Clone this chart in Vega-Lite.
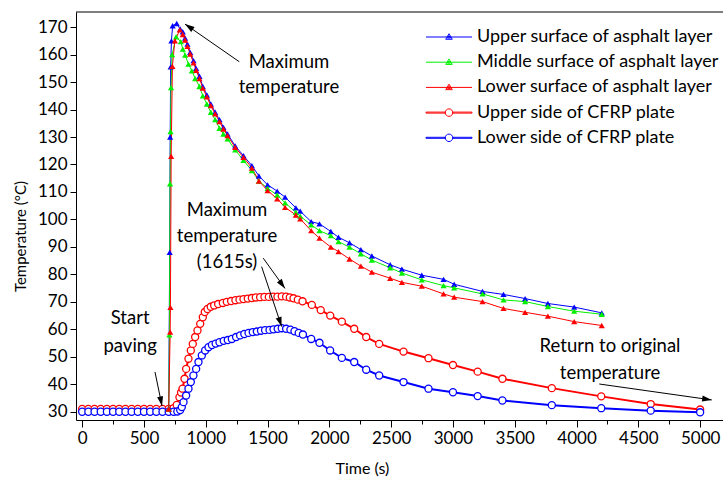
{
  "$schema": "https://vega.github.io/schema/vega-lite/v6.json",
  "width": 647,
  "height": 408,
  "autosize": {"type": "none"},
  "padding": {"left": 76, "top": 12, "right": 0, "bottom": 59},
  "background": "white",
  "config": {
    "view": {"stroke": null},
    "font": "Lato",
    "axis": {
      "domainColor": "black", "tickColor": "black", "labelColor": "black", "titleColor": "black",
      "labelFont": "Lato", "labelFontSize": 17, "titleFont": "Lato", "titleFontSize": 16,
      "titleFontWeight": "normal", "grid": false, "domainWidth": 1, "tickWidth": 1
    }
  },
  "datasets": {
    "temps": [
      {"s":"Upper surface of asphalt layer","t":700,"T":31},{"s":"Upper surface of asphalt layer","t":708,"T":88},{"s":"Upper surface of asphalt layer","t":712,"T":130},{"s":"Upper surface of asphalt layer","t":716,"T":155.5},{"s":"Upper surface of asphalt layer","t":722,"T":165},{"s":"Upper surface of asphalt layer","t":732,"T":170.5},{"s":"Upper surface of asphalt layer","t":765,"T":171.3},{"s":"Upper surface of asphalt layer","t":793,"T":169.3},{"s":"Upper surface of asphalt layer","t":814,"T":168.3},{"s":"Upper surface of asphalt layer","t":833,"T":166},{"s":"Upper surface of asphalt layer","t":852,"T":163.8},{"s":"Upper surface of asphalt layer","t":874,"T":160.8},{"s":"Upper surface of asphalt layer","t":901,"T":157.8},{"s":"Upper surface of asphalt layer","t":922,"T":155},{"s":"Upper surface of asphalt layer","t":949,"T":152.1},{"s":"Upper surface of asphalt layer","t":976,"T":148.4},{"s":"Upper surface of asphalt layer","t":1009,"T":145.3},{"s":"Upper surface of asphalt layer","t":1041,"T":142},{"s":"Upper surface of asphalt layer","t":1076,"T":139},{"s":"Upper surface of asphalt layer","t":1111,"T":136.3},{"s":"Upper surface of asphalt layer","t":1143,"T":133.5},{"s":"Upper surface of asphalt layer","t":1176,"T":131.1},{"s":"Upper surface of asphalt layer","t":1238,"T":126.8},{"s":"Upper surface of asphalt layer","t":1305,"T":123.2},{"s":"Upper surface of asphalt layer","t":1373,"T":119.6},{"s":"Upper surface of asphalt layer","t":1430,"T":115.8},{"s":"Upper surface of asphalt layer","t":1500,"T":112.6},{"s":"Upper surface of asphalt layer","t":1578,"T":110.3},{"s":"Upper surface of asphalt layer","t":1642,"T":108.1},{"s":"Upper surface of asphalt layer","t":1729,"T":104.2},{"s":"Upper surface of asphalt layer","t":1764,"T":103},{"s":"Upper surface of asphalt layer","t":1853,"T":99.2},{"s":"Upper surface of asphalt layer","t":1920,"T":98.4},{"s":"Upper surface of asphalt layer","t":2012,"T":95.6},{"s":"Upper surface of asphalt layer","t":2074,"T":93.5},{"s":"Upper surface of asphalt layer","t":2163,"T":91.5},{"s":"Upper surface of asphalt layer","t":2255,"T":89},{"s":"Upper surface of asphalt layer","t":2344,"T":86.7},{"s":"Upper surface of asphalt layer","t":2492,"T":83.5},{"s":"Upper surface of asphalt layer","t":2587,"T":81.9},{"s":"Upper surface of asphalt layer","t":2748,"T":79.7},{"s":"Upper surface of asphalt layer","t":2924,"T":78.2},{"s":"Upper surface of asphalt layer","t":3010,"T":76.4},{"s":"Upper surface of asphalt layer","t":3239,"T":73.8},{"s":"Upper surface of asphalt layer","t":3409,"T":72.7},{"s":"Upper surface of asphalt layer","t":3584,"T":71.2},{"s":"Upper surface of asphalt layer","t":3768,"T":69.4},{"s":"Upper surface of asphalt layer","t":3981,"T":68.1},{"s":"Upper surface of asphalt layer","t":4204,"T":66},
      {"s":"Middle surface of asphalt layer","t":700,"T":31},{"s":"Middle surface of asphalt layer","t":706,"T":58},{"s":"Middle surface of asphalt layer","t":711,"T":113},{"s":"Middle surface of asphalt layer","t":715,"T":132},{"s":"Middle surface of asphalt layer","t":719,"T":148},{"s":"Middle surface of asphalt layer","t":728,"T":160},{"s":"Middle surface of asphalt layer","t":760,"T":166.5},{"s":"Middle surface of asphalt layer","t":798,"T":164.7},{"s":"Middle surface of asphalt layer","t":814,"T":162},{"s":"Middle surface of asphalt layer","t":833,"T":159.8},{"s":"Middle surface of asphalt layer","t":860,"T":156.5},{"s":"Middle surface of asphalt layer","t":887,"T":154.1},{"s":"Middle surface of asphalt layer","t":914,"T":151.3},{"s":"Middle surface of asphalt layer","t":949,"T":148.4},{"s":"Middle surface of asphalt layer","t":976,"T":145},{"s":"Middle surface of asphalt layer","t":1009,"T":142},{"s":"Middle surface of asphalt layer","t":1041,"T":139},{"s":"Middle surface of asphalt layer","t":1076,"T":136.3},{"s":"Middle surface of asphalt layer","t":1111,"T":133.2},{"s":"Middle surface of asphalt layer","t":1143,"T":131.1},{"s":"Middle surface of asphalt layer","t":1176,"T":129.3},{"s":"Middle surface of asphalt layer","t":1238,"T":125.3},{"s":"Middle surface of asphalt layer","t":1305,"T":121.5},{"s":"Middle surface of asphalt layer","t":1373,"T":117.8},{"s":"Middle surface of asphalt layer","t":1430,"T":114},{"s":"Middle surface of asphalt layer","t":1500,"T":111.3},{"s":"Middle surface of asphalt layer","t":1578,"T":108.9},{"s":"Middle surface of asphalt layer","t":1642,"T":106},{"s":"Middle surface of asphalt layer","t":1729,"T":102.6},{"s":"Middle surface of asphalt layer","t":1764,"T":101.2},{"s":"Middle surface of asphalt layer","t":1853,"T":98},{"s":"Middle surface of asphalt layer","t":1920,"T":95.9},{"s":"Middle surface of asphalt layer","t":2012,"T":94.1},{"s":"Middle surface of asphalt layer","t":2074,"T":91.9},{"s":"Middle surface of asphalt layer","t":2163,"T":89.9},{"s":"Middle surface of asphalt layer","t":2255,"T":87.5},{"s":"Middle surface of asphalt layer","t":2344,"T":85.2},{"s":"Middle surface of asphalt layer","t":2492,"T":82.4},{"s":"Middle surface of asphalt layer","t":2587,"T":80.5},{"s":"Middle surface of asphalt layer","t":2748,"T":78},{"s":"Middle surface of asphalt layer","t":2924,"T":75.9},{"s":"Middle surface of asphalt layer","t":3010,"T":75.1},{"s":"Middle surface of asphalt layer","t":3239,"T":72.9},{"s":"Middle surface of asphalt layer","t":3409,"T":70.7},{"s":"Middle surface of asphalt layer","t":3584,"T":70.1},{"s":"Middle surface of asphalt layer","t":3768,"T":68.3},{"s":"Middle surface of asphalt layer","t":3981,"T":66.6},{"s":"Middle surface of asphalt layer","t":4204,"T":65.5},
      {"s":"Lower surface of asphalt layer","t":700,"T":31},{"s":"Lower surface of asphalt layer","t":712,"T":59},{"s":"Lower surface of asphalt layer","t":714,"T":68},{"s":"Lower surface of asphalt layer","t":720,"T":123},{"s":"Lower surface of asphalt layer","t":730,"T":155.7},{"s":"Lower surface of asphalt layer","t":750,"T":165},{"s":"Lower surface of asphalt layer","t":790,"T":169},{"s":"Lower surface of asphalt layer","t":814,"T":167.3},{"s":"Lower surface of asphalt layer","t":833,"T":165.3},{"s":"Lower surface of asphalt layer","t":852,"T":163},{"s":"Lower surface of asphalt layer","t":874,"T":160.2},{"s":"Lower surface of asphalt layer","t":901,"T":157},{"s":"Lower surface of asphalt layer","t":922,"T":154.3},{"s":"Lower surface of asphalt layer","t":949,"T":151.3},{"s":"Lower surface of asphalt layer","t":976,"T":147.8},{"s":"Lower surface of asphalt layer","t":1009,"T":144.6},{"s":"Lower surface of asphalt layer","t":1041,"T":141.4},{"s":"Lower surface of asphalt layer","t":1076,"T":138.4},{"s":"Lower surface of asphalt layer","t":1111,"T":135.6},{"s":"Lower surface of asphalt layer","t":1143,"T":132.9},{"s":"Lower surface of asphalt layer","t":1176,"T":130.5},{"s":"Lower surface of asphalt layer","t":1238,"T":126.2},{"s":"Lower surface of asphalt layer","t":1305,"T":122.6},{"s":"Lower surface of asphalt layer","t":1373,"T":118.7},{"s":"Lower surface of asphalt layer","t":1430,"T":114},{"s":"Lower surface of asphalt layer","t":1500,"T":110.5},{"s":"Lower surface of asphalt layer","t":1578,"T":107.5},{"s":"Lower surface of asphalt layer","t":1642,"T":104.4},{"s":"Lower surface of asphalt layer","t":1729,"T":101.6},{"s":"Lower surface of asphalt layer","t":1764,"T":100.2},{"s":"Lower surface of asphalt layer","t":1853,"T":95.9},{"s":"Lower surface of asphalt layer","t":1920,"T":93.2},{"s":"Lower surface of asphalt layer","t":2012,"T":89.9},{"s":"Lower surface of asphalt layer","t":2074,"T":88.3},{"s":"Lower surface of asphalt layer","t":2163,"T":85.6},{"s":"Lower surface of asphalt layer","t":2255,"T":83},{"s":"Lower surface of asphalt layer","t":2344,"T":80.8},{"s":"Lower surface of asphalt layer","t":2492,"T":78.6},{"s":"Lower surface of asphalt layer","t":2587,"T":77.1},{"s":"Lower surface of asphalt layer","t":2748,"T":75.7},{"s":"Lower surface of asphalt layer","t":2924,"T":72.9},{"s":"Lower surface of asphalt layer","t":3010,"T":71.7},{"s":"Lower surface of asphalt layer","t":3239,"T":70.1},{"s":"Lower surface of asphalt layer","t":3409,"T":67.6},{"s":"Lower surface of asphalt layer","t":3584,"T":66.2},{"s":"Lower surface of asphalt layer","t":3768,"T":64.8},{"s":"Lower surface of asphalt layer","t":3981,"T":62.8},{"s":"Lower surface of asphalt layer","t":4204,"T":61.4},
      {"s":"Upper side of CFRP plate","t":0,"T":31},{"s":"Upper side of CFRP plate","t":50,"T":31},{"s":"Upper side of CFRP plate","t":100,"T":31},{"s":"Upper side of CFRP plate","t":150,"T":31},{"s":"Upper side of CFRP plate","t":200,"T":31},{"s":"Upper side of CFRP plate","t":250,"T":31},{"s":"Upper side of CFRP plate","t":300,"T":31},{"s":"Upper side of CFRP plate","t":350,"T":31},{"s":"Upper side of CFRP plate","t":400,"T":31},{"s":"Upper side of CFRP plate","t":450,"T":31},{"s":"Upper side of CFRP plate","t":500,"T":31},{"s":"Upper side of CFRP plate","t":550,"T":31},{"s":"Upper side of CFRP plate","t":600,"T":31},{"s":"Upper side of CFRP plate","t":650,"T":31},{"s":"Upper side of CFRP plate","t":700,"T":31},{"s":"Upper side of CFRP plate","t":740,"T":31.3},{"s":"Upper side of CFRP plate","t":765,"T":32.5},{"s":"Upper side of CFRP plate","t":787,"T":35.3},{"s":"Upper side of CFRP plate","t":800,"T":37},{"s":"Upper side of CFRP plate","t":812,"T":38.4},{"s":"Upper side of CFRP plate","t":828,"T":42},{"s":"Upper side of CFRP plate","t":841,"T":45.6},{"s":"Upper side of CFRP plate","t":860,"T":49.3},{"s":"Upper side of CFRP plate","t":879,"T":52.3},{"s":"Upper side of CFRP plate","t":895,"T":54.7},{"s":"Upper side of CFRP plate","t":914,"T":57.2},{"s":"Upper side of CFRP plate","t":933,"T":59.6},{"s":"Upper side of CFRP plate","t":955,"T":62},{"s":"Upper side of CFRP plate","t":976,"T":64.4},{"s":"Upper side of CFRP plate","t":992,"T":66.3},{"s":"Upper side of CFRP plate","t":1014,"T":67.4},{"s":"Upper side of CFRP plate","t":1040,"T":68.2},{"s":"Upper side of CFRP plate","t":1068,"T":68.7},{"s":"Upper side of CFRP plate","t":1100,"T":69.2},{"s":"Upper side of CFRP plate","t":1138,"T":69.6},{"s":"Upper side of CFRP plate","t":1170,"T":70},{"s":"Upper side of CFRP plate","t":1205,"T":70.3},{"s":"Upper side of CFRP plate","t":1240,"T":70.6},{"s":"Upper side of CFRP plate","t":1273,"T":70.8},{"s":"Upper side of CFRP plate","t":1305,"T":71},{"s":"Upper side of CFRP plate","t":1340,"T":71.2},{"s":"Upper side of CFRP plate","t":1373,"T":71.4},{"s":"Upper side of CFRP plate","t":1405,"T":71.6},{"s":"Upper side of CFRP plate","t":1440,"T":71.7},{"s":"Upper side of CFRP plate","t":1475,"T":71.8},{"s":"Upper side of CFRP plate","t":1510,"T":71.8},{"s":"Upper side of CFRP plate","t":1545,"T":71.9},{"s":"Upper side of CFRP plate","t":1580,"T":71.9},{"s":"Upper side of CFRP plate","t":1615,"T":72},{"s":"Upper side of CFRP plate","t":1650,"T":71.9},{"s":"Upper side of CFRP plate","t":1680,"T":71.6},{"s":"Upper side of CFRP plate","t":1710,"T":71.3},{"s":"Upper side of CFRP plate","t":1745,"T":70.8},{"s":"Upper side of CFRP plate","t":1783,"T":70.2},{"s":"Upper side of CFRP plate","t":1858,"T":68.9},{"s":"Upper side of CFRP plate","t":1930,"T":67},{"s":"Upper side of CFRP plate","t":2007,"T":65},{"s":"Upper side of CFRP plate","t":2101,"T":62.8},{"s":"Upper side of CFRP plate","t":2201,"T":60.2},{"s":"Upper side of CFRP plate","t":2298,"T":57.2},{"s":"Upper side of CFRP plate","t":2403,"T":54.7},{"s":"Upper side of CFRP plate","t":2600,"T":51.9},{"s":"Upper side of CFRP plate","t":2802,"T":49.5},{"s":"Upper side of CFRP plate","t":3000,"T":47},{"s":"Upper side of CFRP plate","t":3200,"T":44.6},{"s":"Upper side of CFRP plate","t":3400,"T":42},{"s":"Upper side of CFRP plate","t":3800,"T":38.6},{"s":"Upper side of CFRP plate","t":4200,"T":35.6},{"s":"Upper side of CFRP plate","t":4600,"T":32.8},{"s":"Upper side of CFRP plate","t":5000,"T":30.8},
      {"s":"Lower side of CFRP plate","t":0,"T":30},{"s":"Lower side of CFRP plate","t":50,"T":30},{"s":"Lower side of CFRP plate","t":100,"T":30},{"s":"Lower side of CFRP plate","t":150,"T":30},{"s":"Lower side of CFRP plate","t":200,"T":30},{"s":"Lower side of CFRP plate","t":250,"T":30},{"s":"Lower side of CFRP plate","t":300,"T":30},{"s":"Lower side of CFRP plate","t":350,"T":30},{"s":"Lower side of CFRP plate","t":400,"T":30},{"s":"Lower side of CFRP plate","t":450,"T":30},{"s":"Lower side of CFRP plate","t":500,"T":30},{"s":"Lower side of CFRP plate","t":550,"T":30},{"s":"Lower side of CFRP plate","t":600,"T":30},{"s":"Lower side of CFRP plate","t":650,"T":30},{"s":"Lower side of CFRP plate","t":700,"T":30},{"s":"Lower side of CFRP plate","t":740,"T":30},{"s":"Lower side of CFRP plate","t":770,"T":30.1},{"s":"Lower side of CFRP plate","t":793,"T":30.6},{"s":"Lower side of CFRP plate","t":806,"T":31.7},{"s":"Lower side of CFRP plate","t":820,"T":33.5},{"s":"Lower side of CFRP plate","t":841,"T":35.9},{"s":"Lower side of CFRP plate","t":860,"T":38.4},{"s":"Lower side of CFRP plate","t":879,"T":40.8},{"s":"Lower side of CFRP plate","t":900,"T":43.2},{"s":"Lower side of CFRP plate","t":922,"T":45.6},{"s":"Lower side of CFRP plate","t":941,"T":48.1},{"s":"Lower side of CFRP plate","t":968,"T":50.5},{"s":"Lower side of CFRP plate","t":995,"T":52.3},{"s":"Lower side of CFRP plate","t":1022,"T":53.5},{"s":"Lower side of CFRP plate","t":1050,"T":54.3},{"s":"Lower side of CFRP plate","t":1080,"T":54.8},{"s":"Lower side of CFRP plate","t":1111,"T":55.3},{"s":"Lower side of CFRP plate","t":1145,"T":55.8},{"s":"Lower side of CFRP plate","t":1178,"T":56.1},{"s":"Lower side of CFRP plate","t":1211,"T":56.5},{"s":"Lower side of CFRP plate","t":1245,"T":57.2},{"s":"Lower side of CFRP plate","t":1278,"T":57.8},{"s":"Lower side of CFRP plate","t":1312,"T":58.3},{"s":"Lower side of CFRP plate","t":1346,"T":58.7},{"s":"Lower side of CFRP plate","t":1380,"T":59},{"s":"Lower side of CFRP plate","t":1413,"T":59.2},{"s":"Lower side of CFRP plate","t":1447,"T":59.5},{"s":"Lower side of CFRP plate","t":1480,"T":59.7},{"s":"Lower side of CFRP plate","t":1516,"T":59.8},{"s":"Lower side of CFRP plate","t":1548,"T":60},{"s":"Lower side of CFRP plate","t":1582,"T":60.2},{"s":"Lower side of CFRP plate","t":1615,"T":60.4},{"s":"Lower side of CFRP plate","t":1650,"T":60.2},{"s":"Lower side of CFRP plate","t":1685,"T":59.9},{"s":"Lower side of CFRP plate","t":1718,"T":59.3},{"s":"Lower side of CFRP plate","t":1752,"T":58.7},{"s":"Lower side of CFRP plate","t":1786,"T":58.1},{"s":"Lower side of CFRP plate","t":1853,"T":56.5},{"s":"Lower side of CFRP plate","t":1920,"T":55.1},{"s":"Lower side of CFRP plate","t":2006,"T":52.3},{"s":"Lower side of CFRP plate","t":2101,"T":49.6},{"s":"Lower side of CFRP plate","t":2201,"T":48.1},{"s":"Lower side of CFRP plate","t":2298,"T":45.3},{"s":"Lower side of CFRP plate","t":2403,"T":43.2},{"s":"Lower side of CFRP plate","t":2600,"T":40.8},{"s":"Lower side of CFRP plate","t":2802,"T":38.4},{"s":"Lower side of CFRP plate","t":3000,"T":37.1},{"s":"Lower side of CFRP plate","t":3200,"T":35.7},{"s":"Lower side of CFRP plate","t":3400,"T":34.1},{"s":"Lower side of CFRP plate","t":3800,"T":32.4},{"s":"Lower side of CFRP plate","t":4200,"T":31.3},{"s":"Lower side of CFRP plate","t":4600,"T":30.4},{"s":"Lower side of CFRP plate","t":5000,"T":29.8}
    ]
  },
  "data": {"name": "temps"},
  "encoding": {
    "x": {
      "field": "t", "type": "quantitative",
      "scale": {"domain": [-50, 5185], "nice": false, "zero": false},
      "axis": {
        "title": "Time (s)", "format": "d",
        "values": [0,250,500,750,1000,1250,1500,1750,2000,2250,2500,2750,3000,3250,3500,3750,4000,4250,4500,4750,5000],
        "labelExpr": "datum.value % 500 === 0 ? datum.label : ''",
        "tickSize": {"condition": {"test": "datum.value % 500 === 0", "value": 7}, "value": 4},
        "labelPadding": 3, "titleX": 286, "titleY": 48, "titleAlign": "center", "titleBaseline": "middle"
      }
    },
    "y": {
      "field": "T", "type": "quantitative",
      "scale": {"domain": [27, 175.5], "nice": false, "zero": false},
      "axis": {
        "title": "Temperature (°C)", "format": "d", "titleFontSize": 15,
        "values": [30,40,50,60,70,80,90,100,110,120,130,140,150,160,170],
        "tickSize": 6, "labelPadding": 3, "titlePadding": 9, "titleY": 224
      }
    }
  },
  "layer": [
    {
      "transform": [{"filter": "false"}],
      "mark": {"type": "point", "filled": false, "opacity": 1, "strokeWidth": 1},
      "encoding": {
        "color": {
          "field": "s", "type": "nominal",
          "scale": {
            "domain": ["Upper surface of asphalt layer","Middle surface of asphalt layer","Lower surface of asphalt layer","Upper side of CFRP plate","Lower side of CFRP plate"],
            "range": ["#0000ff","#00f000","#ff0000","#ff0000","#0000ff"]
          },
          "legend": {"orient": "none", "legendX": 332, "legendY": 16, "offset": 0, "title": null, "symbolSize": 100, "symbolOffset": 32, "labelOffset": 19, "rowPadding": 7.2, "labelFont": "Lato", "labelFontSize": 18, "labelColor": "black", "symbolStrokeWidth": 1, "padding": 0, "labelLimit": 400}
        },
        "shape": {
          "field": "s", "type": "nominal",
          "scale": {
            "domain": ["Upper surface of asphalt layer","Middle surface of asphalt layer","Lower surface of asphalt layer","Upper side of CFRP plate","Lower side of CFRP plate"],
            "range": [
              "M-4.6,0H4.6M-0.65,0.45L0,-0.65L0.65,0.45ZM-0.3,0.2L0,-0.25L0.3,0.2Z",
              "M-4.6,0H4.6M-0.65,0.45L0,-0.65L0.65,0.45ZM-0.3,0.2L0,-0.25L0.3,0.2Z",
              "M-4.6,0H4.6M-0.65,0.45L0,-0.65L0.65,0.45ZM-0.3,0.2L0,-0.25L0.3,0.2Z",
              "M-4.6,-0.1H-0.75V0.1H-4.6ZM0.75,-0.1H4.6V0.1H0.75ZM-0.75,0A0.75,0.75,0,1,0,0.75,0A0.75,0.75,0,1,0,-0.75,0Z",
              "M-4.6,-0.1H-0.75V0.1H-4.6ZM0.75,-0.1H4.6V0.1H0.75ZM-0.75,0A0.75,0.75,0,1,0,0.75,0A0.75,0.75,0,1,0,-0.75,0Z"
            ]
          },
          "legend": {"orient": "none", "legendX": 332, "legendY": 16, "offset": 0, "title": null, "symbolSize": 100, "symbolOffset": 32, "labelOffset": 19, "rowPadding": 7.2, "labelFont": "Lato", "labelFontSize": 18, "labelColor": "black", "symbolStrokeWidth": 1, "padding": 0, "labelLimit": 400}
        }
      }
    },
    {
      "transform": [{"filter": {"field": "s", "oneOf": ["Upper side of CFRP plate","Lower side of CFRP plate"]}}],
      "mark": {"type": "line", "strokeWidth": 2},
      "encoding": {
        "stroke": {
          "field": "s", "type": "nominal", "legend": null,
          "scale": {
            "domain": ["Lower side of CFRP plate","Lower surface of asphalt layer","Middle surface of asphalt layer","Upper side of CFRP plate","Upper surface of asphalt layer"],
            "range": ["#0000ff","#ff0000","#00f000","#ff0000","#0000ff"]
          }
        }
      }
    },
    {
      "transform": [{"filter": {"field": "s", "oneOf": ["Upper side of CFRP plate","Lower side of CFRP plate"]}}],
      "mark": {"type": "point", "shape": "circle", "filled": false, "fill": "white", "size": 50, "strokeWidth": 1.3, "opacity": 1},
      "encoding": {
        "stroke": {"field": "s", "type": "nominal", "legend": null}
      }
    },
    {
      "transform": [{"filter": {"field": "s", "oneOf": ["Upper surface of asphalt layer","Middle surface of asphalt layer","Lower surface of asphalt layer"]}}],
      "mark": {"type": "line", "strokeWidth": 1},
      "encoding": {
        "stroke": {"field": "s", "type": "nominal", "legend": null}
      }
    },
    {
      "transform": [{"filter": {"field": "s", "oneOf": ["Upper surface of asphalt layer","Middle surface of asphalt layer","Lower surface of asphalt layer"]}}],
      "mark": {"type": "point", "shape": "triangle-up", "filled": true, "size": 38, "opacity": 1},
      "encoding": {
        "fill": {
          "field": "s", "type": "nominal", "legend": null,
          "scale": {
            "domain": ["Lower surface of asphalt layer","Middle surface of asphalt layer","Upper surface of asphalt layer"],
            "range": ["#ff0000","#00f000","#0000ff"]
          }
        }
      }
    },
    {
      "transform": [{"filter": "datum.t === 0 && datum.T === 31"}],
      "mark": {"type": "rule", "color": "black", "strokeWidth": 1},
      "encoding": {"x": null, "y": {"datum": 175.5, "type": "quantitative"}}
    },
    {
      "transform": [{"filter": "datum.t === 0 && datum.T === 31"}],
      "mark": {"type": "text", "text": ["Maximum", "temperature"], "lineHeight": 25, "align": "center", "baseline": "middle", "font": "Lato", "fontSize": 18.5, "fontWeight": "normal", "fill": "black"},
      "encoding": {"x": {"datum": 1673, "type": "quantitative"}, "y": {"datum": 157.4, "type": "quantitative"}}
    },
    {
      "transform": [{"filter": "datum.t === 0 && datum.T === 31"}],
      "mark": {"type": "text", "text": ["Maximum", "temperature", "(1615s)"], "lineHeight": 26, "align": "center", "baseline": "middle", "font": "Lato", "fontSize": 18.5, "fontWeight": "normal", "fill": "black"},
      "encoding": {"x": {"datum": 1172, "type": "quantitative"}, "y": {"datum": 103.4, "type": "quantitative"}}
    },
    {
      "transform": [{"filter": "datum.t === 0 && datum.T === 31"}],
      "mark": {"type": "text", "text": ["Start", "paving"], "lineHeight": 28, "align": "center", "baseline": "middle", "font": "Lato", "fontSize": 18.5, "fontWeight": "normal", "fill": "black"},
      "encoding": {"x": {"datum": 388, "type": "quantitative"}, "y": {"datum": 64.1, "type": "quantitative"}}
    },
    {
      "transform": [{"filter": "datum.t === 0 && datum.T === 31"}],
      "mark": {"type": "text", "text": ["Return to original", "temperature"], "lineHeight": 27.5, "align": "center", "baseline": "middle", "font": "Lato", "fontSize": 18.5, "fontWeight": "normal", "fill": "black"},
      "encoding": {"x": {"datum": 4271, "type": "quantitative"}, "y": {"datum": 54.0, "type": "quantitative"}}
    },
    {
      "transform": [{"filter": "datum.t === 0 && datum.T === 31"}],
      "mark": {"type": "rule", "color": "black", "strokeWidth": 1},
      "encoding": {"x": {"datum": 1271, "type": "quantitative"}, "y": {"datum": 157.4, "type": "quantitative"}, "x2": {"datum": 832}, "y2": {"datum": 171.1}}
    },
    {
      "transform": [{"filter": "datum.t === 0 && datum.T === 31"}],
      "mark": {"type": "point", "shape": "M0,0L-0.75,2.4L0.75,2.4Z", "filled": true, "color": "black", "size": 64, "angle": 304.8, "opacity": 1},
      "encoding": {"x": {"datum": 832, "type": "quantitative"}, "y": {"datum": 171.1, "type": "quantitative"}}
    },
    {
      "transform": [{"filter": "datum.t === 0 && datum.T === 31"}],
      "mark": {"type": "rule", "color": "black", "strokeWidth": 1},
      "encoding": {"x": {"datum": 589, "type": "quantitative"}, "y": {"datum": 44.5, "type": "quantitative"}, "x2": {"datum": 646}, "y2": {"datum": 32.1}}
    },
    {
      "transform": [{"filter": "datum.t === 0 && datum.T === 31"}],
      "mark": {"type": "point", "shape": "M0,0L-0.75,2.4L0.75,2.4Z", "filled": true, "color": "black", "size": 64, "angle": 168.4, "opacity": 1},
      "encoding": {"x": {"datum": 646, "type": "quantitative"}, "y": {"datum": 32.1, "type": "quantitative"}}
    },
    {
      "transform": [{"filter": "datum.t === 0 && datum.T === 31"}],
      "mark": {"type": "rule", "color": "black", "strokeWidth": 1},
      "encoding": {"x": {"datum": 1465, "type": "quantitative"}, "y": {"datum": 85.9, "type": "quantitative"}, "x2": {"datum": 1641}, "y2": {"datum": 74.9}}
    },
    {
      "transform": [{"filter": "datum.t === 0 && datum.T === 31"}],
      "mark": {"type": "point", "shape": "M0,0L-0.75,2.4L0.75,2.4Z", "filled": true, "color": "black", "size": 64, "angle": 144.1, "opacity": 1},
      "encoding": {"x": {"datum": 1641, "type": "quantitative"}, "y": {"datum": 74.9, "type": "quantitative"}}
    },
    {
      "transform": [{"filter": "datum.t === 0 && datum.T === 31"}],
      "mark": {"type": "rule", "color": "black", "strokeWidth": 1},
      "encoding": {"x": {"datum": 1452, "type": "quantitative"}, "y": {"datum": 82.8, "type": "quantitative"}, "x2": {"datum": 1614}, "y2": {"datum": 61.0}}
    },
    {
      "transform": [{"filter": "datum.t === 0 && datum.T === 31"}],
      "mark": {"type": "point", "shape": "M0,0L-0.75,2.4L0.75,2.4Z", "filled": true, "color": "black", "size": 64, "angle": 161.6, "opacity": 1},
      "encoding": {"x": {"datum": 1614, "type": "quantitative"}, "y": {"datum": 61.0, "type": "quantitative"}}
    },
    {
      "transform": [{"filter": "datum.t === 0 && datum.T === 31"}],
      "mark": {"type": "rule", "color": "black", "strokeWidth": 1},
      "encoding": {"x": {"datum": 4184, "type": "quantitative"}, "y": {"datum": 40.1, "type": "quantitative"}, "x2": {"datum": 5094}, "y2": {"datum": 34.3}}
    },
    {
      "transform": [{"filter": "datum.t === 0 && datum.T === 31"}],
      "mark": {"type": "point", "shape": "M0,0L-0.75,2.4L0.75,2.4Z", "filled": true, "color": "black", "size": 64, "angle": 98.1, "opacity": 1},
      "encoding": {"x": {"datum": 5094, "type": "quantitative"}, "y": {"datum": 34.3, "type": "quantitative"}}
    }
  ]
}
